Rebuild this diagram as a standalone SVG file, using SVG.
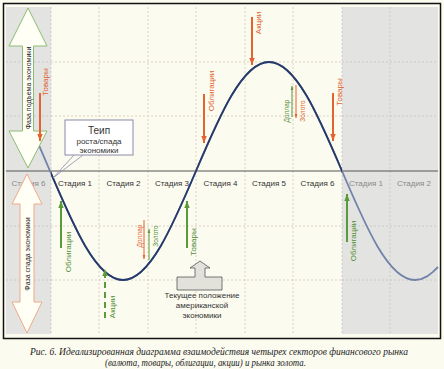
<svg xmlns="http://www.w3.org/2000/svg" width="444" height="369" viewBox="0 0 444 369">
<style>
.grid{stroke:#d6c9b8;stroke-width:0.8;stroke-dasharray:2,2;fill:none}
.gridg{stroke:#c4c4c4;stroke-width:0.8;stroke-dasharray:2,2;fill:none}
.stage{font-family:"Liberation Sans",Arial,sans-serif;font-size:8px;fill:#333;text-anchor:middle}
.stageg{font-family:"Liberation Sans",Arial,sans-serif;font-size:8px;fill:#8a8a8a;text-anchor:middle}
.lbl{font-family:"Liberation Sans",Arial,sans-serif;font-size:8px;text-anchor:middle;dominant-baseline:central}
.sm{font-size:6.5px}
.or{fill:#e0602c}
.gr{fill:#4e8e30}
.ao{stroke:#e6622e;stroke-width:2;fill:none;marker-end:url(#ho)}
.ag{stroke:#5a9a3a;stroke-width:2;fill:none;marker-end:url(#hg)}
.aot{stroke:#e6622e;stroke-width:1;fill:none;marker-end:url(#hos)}
.agt{stroke:#5a9a3a;stroke-width:1;fill:none;marker-end:url(#hgs)}
.phase{font-family:"Liberation Sans",Arial,sans-serif;font-size:7px;fill:#222;text-anchor:middle;dominant-baseline:central}
.note{font-family:"Liberation Sans",Arial,sans-serif;font-size:8px;fill:#333;text-anchor:middle}
.cap{font-family:"Liberation Serif","Times New Roman",serif;font-style:italic;font-size:10px;fill:#222}
</style>
<defs>
<marker id="ho" markerUnits="userSpaceOnUse" markerWidth="7" markerHeight="10" refX="9" refY="3.5" orient="auto" viewBox="0 0 9 7"><path d="M0,0 L9,3.5 L0,7 Z" fill="#e6622e"/></marker>
<marker id="hg" markerUnits="userSpaceOnUse" markerWidth="7" markerHeight="10" refX="9" refY="3.5" orient="auto" viewBox="0 0 9 7"><path d="M0,0 L9,3.5 L0,7 Z" fill="#5a9a3a"/></marker>
<marker id="hos" markerUnits="userSpaceOnUse" markerWidth="4" markerHeight="6" refX="6" refY="2" orient="auto" viewBox="0 0 6 4"><path d="M0,0 L6,2 L0,4 Z" fill="#e6622e"/></marker>
<marker id="hgs" markerUnits="userSpaceOnUse" markerWidth="4" markerHeight="6" refX="6" refY="2" orient="auto" viewBox="0 0 6 4"><path d="M0,0 L6,2 L0,4 Z" fill="#5a9a3a"/></marker>
<clipPath id="mid"><rect x="51" y="0" width="291" height="369"/></clipPath>
</defs>

<rect x="0" y="0" width="444" height="369" fill="#fbfbf0"/>
<rect x="5" y="5" width="434" height="333" fill="#fcfbf0"/>
<rect x="6" y="7" width="45" height="327" fill="#e3e4e1"/>
<rect x="342" y="7" width="96" height="327" fill="#e3e4e1"/>

<g id="grid">
<path class="grid" d="M99,7V334 M148,7V334 M196,7V334 M245,7V334 M293,7V334 M51,62H342 M51,116H342 M51,226H342 M51,280H342"/>
<path class="gridg" d="M51,7V334 M342,7V334 M390,7V334 M6,62H51 M6,116H51 M6,226H51 M6,280H51 M342,62H438 M342,116H438 M342,226H438 M342,280H438"/>
<line x1="6" y1="171" x2="438" y2="171" stroke="#555" stroke-width="1"/>
</g>

<g id="stages">
<text class="stageg" x="28.5" y="186">Стадия 6</text>
<text class="stage" x="75" y="186">Стадия 1</text>
<text class="stage" x="123.5" y="186">Стадия 2</text>
<text class="stage" x="172" y="186">Стадия 3</text>
<text class="stage" x="220.5" y="186">Стадия 4</text>
<text class="stage" x="269" y="186">Стадия 5</text>
<text class="stage" x="317.5" y="186">Стадия 6</text>
<text class="stageg" x="366" y="186">Стадия 1</text>
<text class="stageg" x="414" y="186">Стадия 2</text>
</g>

<g id="connectors">
<path id="curve-light" d="M34,134.3 L38,143.2 L42,152.3 L46,161.6 L50,171 C73.81,226.84 96.58,280 123,280 C149.42,280 172.19,226.84 196,171 C219.81,115.16 242.58,62 269,62 C295.42,62 318.19,115.16 342,171 C365.81,226.84 388.58,280 415,280 L421,279.1 L427,276.4 L433,271.9 L438,267" fill="none" stroke="#7282aa" stroke-width="1.8"/>
<path id="curve-dark" clip-path="url(#mid)" d="M34,134.3 L38,143.2 L42,152.3 L46,161.6 L50,171 C73.81,226.84 96.58,280 123,280 C149.42,280 172.19,226.84 196,171 C219.81,115.16 242.58,62 269,62 C295.42,62 318.19,115.16 342,171 C365.81,226.84 388.58,280 415,280" fill="none" stroke="#263a6a" stroke-width="1.8"/>
<line x1="74" y1="155" x2="53" y2="178" stroke="#8a8aa8" stroke-width="0.8"/>
<line x1="83" y1="155" x2="53" y2="178" stroke="#8a8aa8" stroke-width="0.8"/>
</g>

<g id="phase-up">
<path d="M28,8 L47,46 L33.5,46 L33.5,131 L47,131 L28,168 L9,131 L22.5,131 L22.5,46 L9,46 Z" fill="#fffff6" stroke="#8cbc74" stroke-width="1"/>
<text class="phase" transform="translate(28,88) rotate(-90)">Фаза подъема экономики</text>
</g>
<g id="phase-down">
<path d="M27,174 L42,204 L34,204 L34,302 L42,302 L27,333 L12,302 L20,302 L20,204 L12,204 Z" fill="#fffff6" stroke="#f0a888" stroke-width="1"/>
<text class="phase" transform="translate(27,254) rotate(-90)">Фаза спада экономики</text>
</g>

<g id="callout">
<rect x="65" y="120" width="68" height="35" fill="#ffffff" stroke="#8a8aa8" stroke-width="1"/>
<text class="note" x="99" y="134" style="font-size:10px">Теип</text>
<text class="note" x="99" y="144">роста/спада</text>
<text class="note" x="99" y="153">экономики</text>
</g>

<g id="sig-tovary-1">
<line class="ao" x1="40" y1="93" x2="40" y2="141"/>
<text class="lbl or" transform="translate(45,82) rotate(-90)">Товары</text>
</g>
<g id="sig-obligacii-sell">
<line class="ao" x1="204" y1="94" x2="204" y2="143"/>
<text class="lbl or" transform="translate(211,91) rotate(-90)">Облигации</text>
</g>
<g id="sig-akcii-sell">
<line class="ao" x1="252" y1="17" x2="252" y2="65"/>
<text class="lbl or" transform="translate(258,23) rotate(-90)">Акции</text>
</g>
<g id="sig-dollar-up">
<line class="agt" x1="292" y1="117" x2="292" y2="86"/>
<text class="lbl sm gr" transform="translate(286,111) rotate(-90)">Доллар</text>
</g>
<g id="sig-zoloto-down">
<line class="aot" x1="296" y1="85" x2="296" y2="118"/>
<text class="lbl sm or" transform="translate(302,111) rotate(-90)">Золото</text>
</g>
<g id="sig-tovary-2">
<line class="ao" x1="333" y1="93" x2="333" y2="141"/>
<text class="lbl or" transform="translate(339,92) rotate(-90)">Товары</text>
</g>
<g id="sig-obligacii-buy-1">
<line class="ag" x1="61" y1="248" x2="61" y2="201"/>
<text class="lbl gr" transform="translate(68,252) rotate(-90)">Облигации</text>
</g>
<g id="sig-akcii-buy">
<line class="ag" x1="105" y1="318" x2="105" y2="269" stroke-dasharray="6,4"/>
<text class="lbl gr" transform="translate(112,307) rotate(-90)">Акции</text>
</g>
<g id="sig-dollar-down">
<line class="aot" x1="144" y1="220" x2="144" y2="259"/>
<text class="lbl sm or" transform="translate(139,236) rotate(-90)">Доллар</text>
</g>
<g id="sig-zoloto-up">
<line class="agt" x1="149" y1="260" x2="149" y2="229"/>
<text class="lbl sm gr" transform="translate(155,236) rotate(-90)">Золото</text>
</g>
<g id="sig-tovary-buy">
<line class="ag" x1="187" y1="248" x2="187" y2="201"/>
<text class="lbl gr" transform="translate(193,242) rotate(-90)">Товары</text>
</g>
<g id="sig-obligacii-buy-2">
<line class="ag" x1="347" y1="242" x2="347" y2="194"/>
<text class="lbl gr" transform="translate(353,241) rotate(-90)">Облигации</text>
</g>

<g id="current-position">
<path d="M200,261 L210,268 L205,268 L205,277 L222,277 L222,290 L177,290 L177,277 L195,277 L195,268 L190,268 Z" fill="#e2e2da" stroke="#555" stroke-width="0.8"/>
<text class="note" x="202" y="298">Текущее положение</text>
<text class="note" x="202" y="308">американской</text>
<text class="note" x="202" y="318">экономики</text>
</g>

<rect x="3.5" y="3.5" width="437" height="335" fill="none" stroke="#111" stroke-width="1.5"/>

<g id="caption">
<text class="cap" x="30" y="355" textLength="378" lengthAdjust="spacingAndGlyphs">Рис. 6. Идеализированная диаграмма взаимодействия четырех секторов финансового рынка</text>
<text class="cap" x="105" y="366" textLength="201" lengthAdjust="spacingAndGlyphs">(валюта, товары, облигации, акции) и рынка золота.</text>
</g>
</svg>
